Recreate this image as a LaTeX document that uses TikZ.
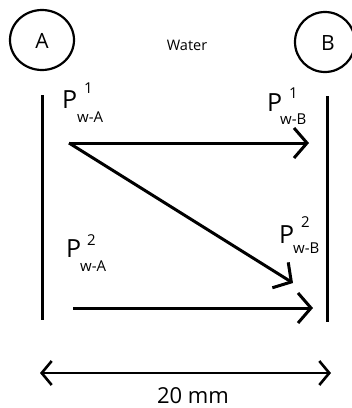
\documentclass[tikz,border=0pt]{standalone}
\usepackage{fontspec}
\setmainfont{Open Sans}
\usetikzlibrary{arrows.meta}
\begin{document}
\begin{tikzpicture}[x=1pt,y=-1pt,
  wall/.style={line width=3pt},
  flow/.style={line width=3pt,-{Straight Barb[length=13pt,width=30pt]}},
  dim/.style={line width=2.6pt,{Straight Barb[length=10pt,width=24pt]}-{Straight Barb[length=10pt,width=24pt]}},
  bigP/.style={font=\fontsize{25}{25}\selectfont,inner sep=0pt,anchor=base west},
  small/.style={font=\fontsize{15}{15}\selectfont,inner sep=0pt,anchor=base west},
  lab/.style={inner sep=0pt,anchor=base}]
\useasboundingbox (0,0) rectangle (352,408);
% circles
\draw[line width=2.2pt] (42,40) ellipse [x radius=32, y radius=30];
\draw[line width=2.2pt] (325,42) circle [radius=30];
\node[lab,font=\fontsize{21}{21}\selectfont] (A) at (42,48) {A};
\node[lab,font=\fontsize{21}{21}\selectfont] (B) at (328,50) {B};
\node[lab,font=\fontsize{14.5}{14.5}\selectfont] (water) at (187,50) {Water};
% walls
\coordinate (wAt) at (42,95);
\coordinate (wAb) at (42,320);
\coordinate (wBt) at (327,96);
\coordinate (wBb) at (327,322);
\draw[wall] (wAt) -- (wAb);
\draw[wall] (wBt) -- (wBb);
% flows
\coordinate (s1) at (69,143);
\coordinate (e1) at (309,143);
\coordinate (e2) at (293,283);
\coordinate (s3) at (73,308);
\coordinate (e3) at (313,308);
\draw[flow] (s1) -- (e1);
\draw[flow] (s1) -- (e2);
\draw[flow] (s3) -- (e3);
% dimension
\coordinate (d1) at (40,373);
\coordinate (d2) at (331,373);
\draw[dim] (d1) -- (d2);
\node[lab,font=\fontsize{22}{22}\selectfont] (dimlab) at (193,403.5) {20 mm};
% labels
\node[bigP] (p1a) at (62,108) {P};
\node[small] (p1asup) at (84,93) {1};
\node[small] (p1asub) at (77,122) {w-A};
\node[bigP] (p1b) at (267,111) {P};
\node[small] (p1bsup) at (289,98) {1};
\node[small] (p1bsub) at (280,124) {w-B};
\node[bigP] (p2a) at (66,257) {P};
\node[small] (p2asup) at (87,245) {2};
\node[small] (p2asub) at (80,271) {w-A};
\node[bigP] (p2b) at (279,243) {P};
\node[small] (p2bsup) at (301,227) {2};
\node[small] (p2bsub) at (293,253) {w-B};
\end{tikzpicture}
\end{document}
